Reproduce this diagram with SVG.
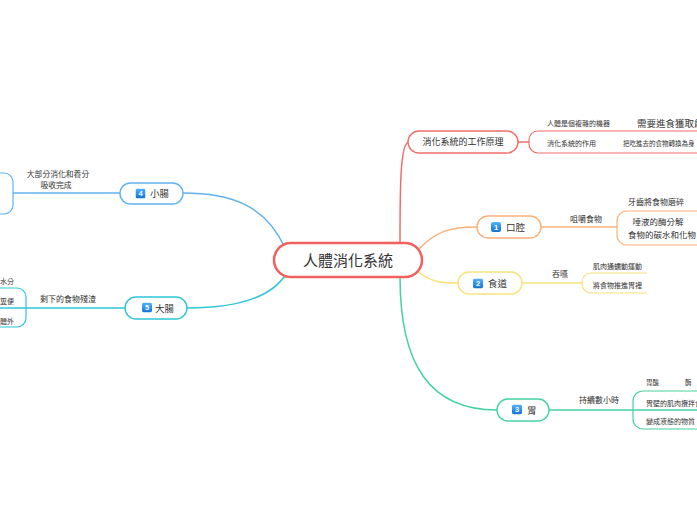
<svg xmlns="http://www.w3.org/2000/svg" width="697" height="520" viewBox="0 0 697 520">
<defs>
<linearGradient id="ig" x1="0" y1="0" x2="0" y2="1">
<stop offset="0" stop-color="#4fb3ff"/>
<stop offset="1" stop-color="#1273d6"/>
</linearGradient>
<symbol id="icon" viewBox="0 0 10 10"><rect x="0" y="0" width="10" height="10" rx="2" fill="url(#ig)"/></symbol>
</defs>
<style>
text{font-family:"Noto Sans CJK TC","Noto Sans CJK SC",sans-serif;fill:#333}
.node{fill:#fff;stroke-width:1.4}
.con{fill:none;stroke-width:1.5}
.br{fill:none;stroke-width:1.2}
.num{fill:#fff;font-family:"Liberation Sans",sans-serif;font-weight:bold;font-size:7.5px;text-anchor:middle}
.r{stroke:#f26d68}.o{stroke:#fbb07a}.y{stroke:#f7e27c}.g{stroke:#45d2a0}.b{stroke:#62b3f0}.c{stroke:#2fc6d8}
</style>
<rect width="697" height="520" fill="#fff"/>
<g id="connectors">
<path class="con r" d="M400,244 C400,190 400,142 409,142"/>
<path class="con o" d="M418,250 C436,231 450,227 477,227"/>
<path class="con y" d="M416,270 C430,282 440,283 458,283"/>
<path class="con g" d="M400,277 C400,365 430,410 497,410"/>
<path class="con b" d="M284,246 C265,205 230,193 183,193"/>
<path class="con c" d="M286,274 C270,300 230,308 187,308"/>
<path class="con r" d="M518,142 H529"/>
<path class="con o" d="M541,227 H617"/>
<path class="con y" d="M522,283 H582"/>
<path class="con g" d="M549,410 H697"/>
<path class="con b" d="M13,193 H120"/>
<path class="con c" d="M0,308 H125"/>
</g>
<g id="center">
<rect x="274" y="243" width="148" height="34" rx="17" fill="#fff" stroke="#f0605c" stroke-width="2.5"/>
<text x="348" y="266" font-size="15" text-anchor="middle">人體消化系統</text>
</g>
<g id="principle">
<rect class="node r" x="408" y="131" width="110" height="22" rx="11"/>
<text x="463" y="145" font-size="9" text-anchor="middle">消化系統的工作原理</text>
<path class="br r" d="M697,131 H538 A9,9 0 0 0 529,140 V144 A9,9 0 0 0 538,153 H697"/>
<text x="547" y="125.5" font-size="7">人體是個複雜的機器</text>
<text x="637" y="126.5" font-size="9.5">需要進食獲取能量</text>
<text x="547" y="145.5" font-size="7">消化系統的作用</text>
<text x="623" y="145.5" font-size="6.5">把吃進去的食物轉換為身</text>
</g>
<g id="mouth">
<rect class="node o" x="477" y="216" width="64" height="22" rx="11"/>
<use href="#icon" x="491" y="222" width="10" height="10"/>
<text class="num" x="496" y="229.7">1</text>
<text x="506" y="230.5" font-size="9.5">口腔</text>
<text x="570" y="222" font-size="8">咀嚼食物</text>
<path class="br o" d="M697,211 H627 A10,10 0 0 0 617,221 V235 A10,10 0 0 0 627,245 H697"/>
<text x="628" y="205" font-size="8">牙齒將食物磨碎</text>
<text x="658" y="225" font-size="8.5" text-anchor="middle">唾液的酶分解</text>
<text x="662" y="237.5" font-size="8.5" text-anchor="middle">食物的碳水和化物</text>
</g>
<g id="esophagus">
<rect class="node y" x="458" y="272" width="64" height="22" rx="11"/>
<use href="#icon" x="473" y="278.5" width="10" height="10"/>
<text class="num" x="478" y="286.2">2</text>
<text x="488" y="286.5" font-size="9.5">食道</text>
<text x="552" y="277" font-size="8">吞嚥</text>
<path class="br y" d="M647,273 H591 A9,9 0 0 0 582,282 V284 A9,9 0 0 0 591,293 H647"/>
<text x="593" y="268.5" font-size="7">肌肉通蠕動運動</text>
<text x="593" y="287.5" font-size="7">將食物推進胃裡</text>
</g>
<g id="stomach">
<rect class="node g" x="497" y="399" width="52" height="22" rx="11"/>
<use href="#icon" x="512" y="404.5" width="10" height="10"/>
<text class="num" x="517" y="412.2">3</text>
<text x="527" y="413.5" font-size="9.5">胃</text>
<text x="579" y="403" font-size="8">持續數小時</text>
<path class="br g" d="M697,391 H643 A10,10 0 0 0 633,401 V419 A10,10 0 0 0 643,429 H697"/>
<text x="646" y="384.5" font-size="6.5">胃酸</text>
<text x="685" y="384.5" font-size="6.5">酶</text>
<text x="646" y="405.5" font-size="7">胃壁的肌肉攪拌食</text>
<text x="646" y="424" font-size="7">變成液態的物質</text>
</g>
<g id="small-intestine">
<rect class="node b" x="120" y="183" width="63" height="21" rx="10.5"/>
<use href="#icon" x="135.5" y="188.5" width="10" height="10"/>
<text class="num" x="140.5" y="196.2">4</text>
<text x="150" y="197" font-size="9.5">小腸</text>
<text x="58" y="177" font-size="7.8" text-anchor="middle">大部分消化和養分</text>
<text x="56" y="188" font-size="7.8" text-anchor="middle">吸收完成</text>
<path class="br b" d="M-5,173 H4 A9,9 0 0 1 13,182 V205 A9,9 0 0 1 4,214 H-5"/>
</g>
<g id="large-intestine">
<rect class="node c" x="125" y="297" width="62" height="22" rx="11"/>
<use href="#icon" x="142" y="302.5" width="10" height="10"/>
<text class="num" x="147" y="310.2">5</text>
<text x="155" y="311.5" font-size="9.5">大腸</text>
<text x="40" y="302" font-size="8">剩下的食物殘渣</text>
<path class="br c" d="M-5,288 H17 A9,9 0 0 1 26,297 V318 A9,9 0 0 1 17,327 H-5"/>
<text x="14" y="283.5" font-size="7" text-anchor="end">水分</text>
<text x="14" y="303.5" font-size="7" text-anchor="end">糞便</text>
<text x="14" y="323.5" font-size="7" text-anchor="end">體外</text>
</g>
</svg>
